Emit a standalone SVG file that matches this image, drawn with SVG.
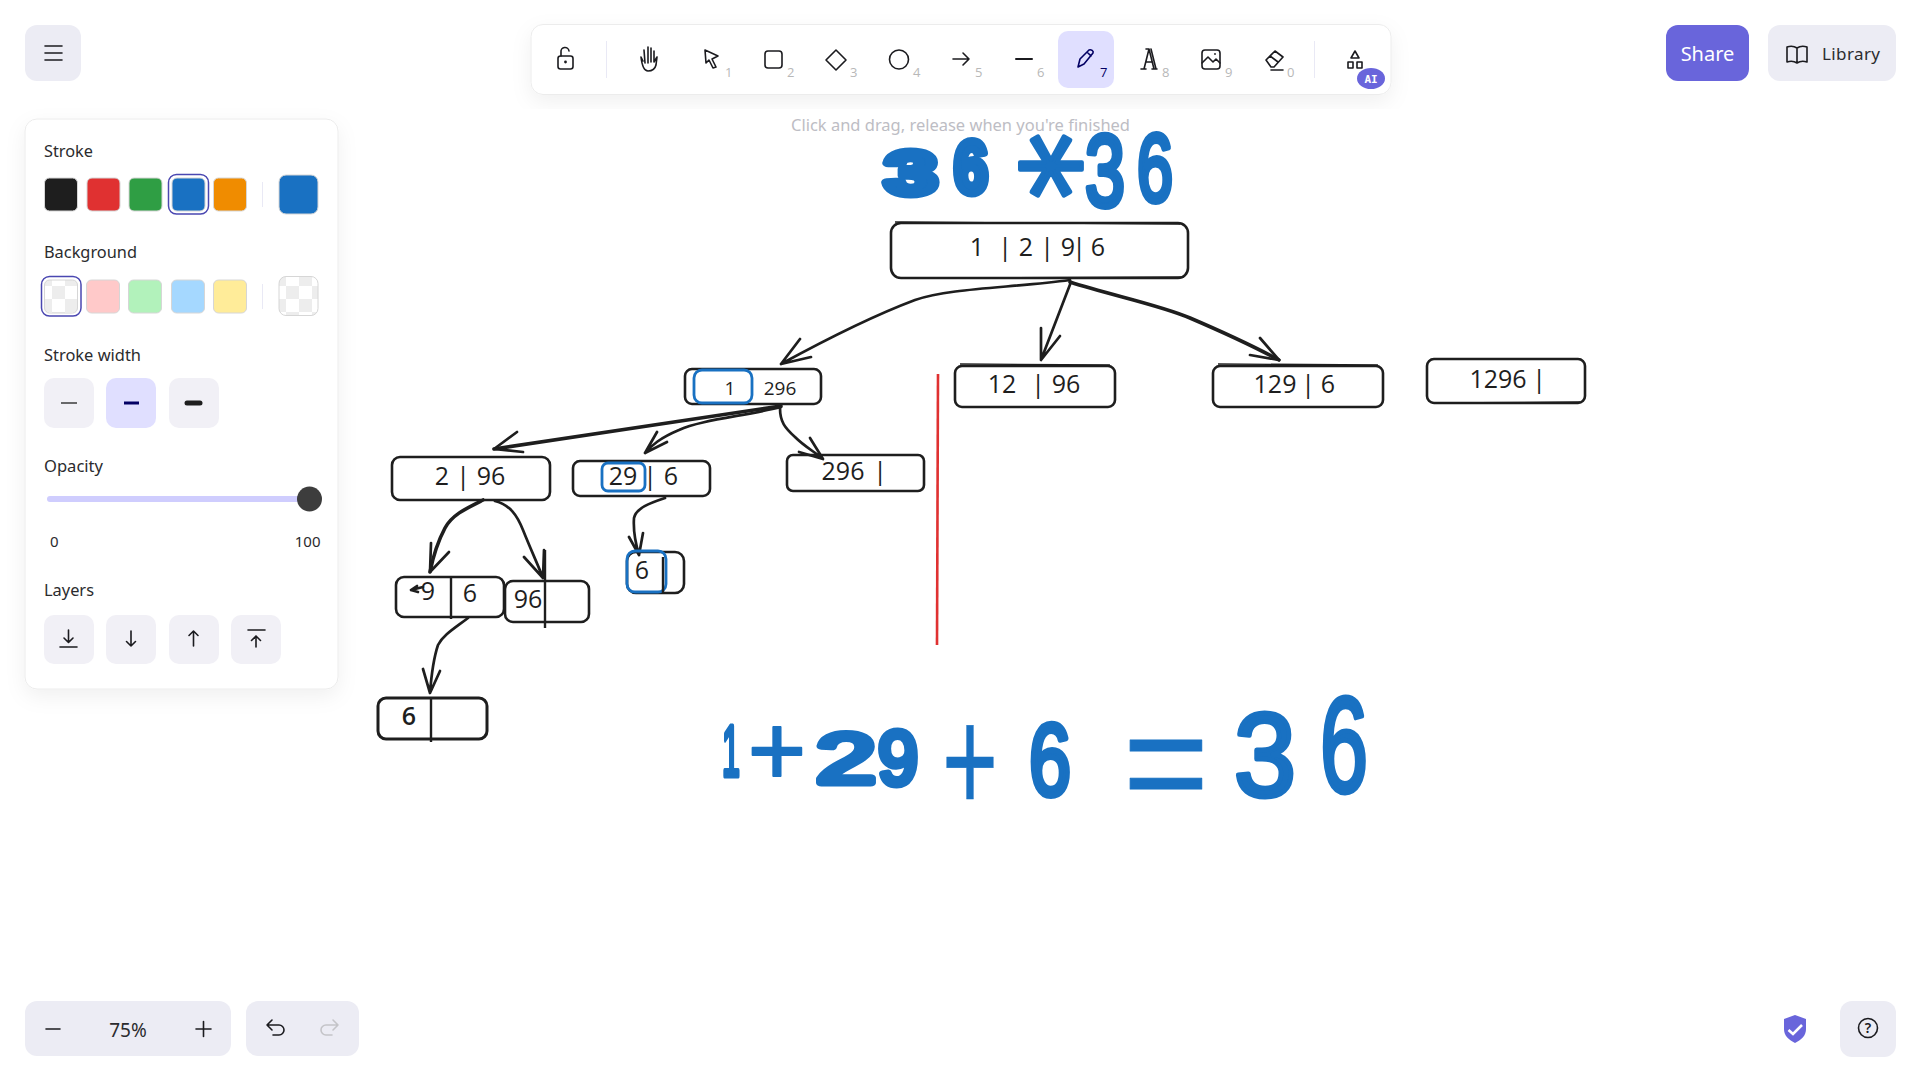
<svg xmlns="http://www.w3.org/2000/svg" width="1919" height="1077" viewBox="0 0 1919 1077">
<defs>
<filter id="sh" x="-15%" y="-15%" width="130%" height="135%"><feDropShadow dx="0" dy="7" stdDeviation="10" flood-color="#000" flood-opacity="0.06"/></filter>
<pattern id="chk" width="26" height="26" patternUnits="userSpaceOnUse"><rect width="13" height="13" fill="#ededed"/><rect x="13" y="13" width="13" height="13" fill="#ededed"/><rect x="13" width="13" height="13" fill="#fff"/><rect y="13" width="13" height="13" fill="#fff"/></pattern>
</defs>
<style>
text{font-family:"Noto Sans","Open Sans",sans-serif}
.ui{font-size:16px;fill:#2b2b2e}
.num{font-size:13px;fill:#b8b8b8;font-family:"Open Sans",sans-serif}
.btn{fill:#ececf4}
.sb{fill:#f1f0f6}
.ic{fill:none;stroke:#1b1b1f;stroke-width:1.6;stroke-linecap:round;stroke-linejoin:round}
.sw{stroke:#d6d6d6;stroke-width:1}
.ring{fill:none;stroke:#4a47b1;stroke-width:1.5}
.bx{fill:none;stroke:#1e1e1e;stroke-width:2.6}
.bx2{fill:none;stroke:#1e1e1e;stroke-width:1.4}
.bl{fill:none;stroke:#1971c2;stroke-width:2.8}
.dv{stroke:#1e1e1e;stroke-width:2.4;fill:none}
.lb{font-family:"Open Sans",sans-serif;font-size:25px;fill:#1e1e1e;text-anchor:middle}
.ln{fill:none;stroke:#1e1e1e;stroke-width:2.7;stroke-linecap:round;stroke-linejoin:round}
.th{stroke-width:3.6}
.pen{font-family:"Liberation Sans",sans-serif;fill:#1971c2;stroke:#1971c2;stroke-width:5;stroke-linejoin:round;stroke-linecap:round;text-anchor:middle}
</style>
<rect width="1919" height="1077" fill="#fff"/>

<g id="canvas-title">
<text class="pen" x="911" y="194" font-size="62" textLength="52" lengthAdjust="spacingAndGlyphs" style="stroke-width:8;font-weight:700">3</text>
<text class="pen" x="971" y="193" font-size="74" textLength="34" lengthAdjust="spacingAndGlyphs" style="stroke-width:8;font-weight:700">6</text>
<text class="pen" x="1050" y="166" font-size="135" transform="rotate(90 1050 166) translate(0 69)" style="font-family:'DejaVu Sans',sans-serif;stroke-width:4">*</text>
<text class="pen" x="1105" y="206" font-size="102" textLength="40" lengthAdjust="spacingAndGlyphs" style="stroke-width:6">3</text>
<text class="pen" x="1155" y="201" font-size="96" textLength="36" lengthAdjust="spacingAndGlyphs" style="stroke-width:6">6</text>
</g>

<g id="connectors">
<path class="ln" d="M1070 280C1010 288 950 288 915 300C875 315 825 340 781 364M800 339L781 364L811 357"/>
<path class="ln" d="M1071 282L1041 360M1041 328L1041 360L1060 336"/>
<path class="ln th" d="M1070 282C1110 295 1160 305 1190 318C1225 333 1255 347 1279 360"/>
<path class="ln" d="M1260 338L1279 360L1250 355"/>
<path class="ln th" d="M781 406L494 449"/>
<path class="ln" d="M517 432L494 449L523 452"/>
<path class="ln" d="M781 407C745 416 700 420 679 430C660 438 652 445 645 453M657 432L645 453L667 442"/>
<path class="ln" d="M780 408C780 422 785 428 795 437C805 447 815 452 823 459M810 438L823 459L799 452"/>
<path class="ln th" d="M483 500C465 509 452 515 445 528C437 543 433 557 430 572"/>
<path class="ln" d="M431 543L430 572L449 552"/>
<path class="ln" d="M495 501C510 505 517 515 523 530C531 550 538 565 543 578M524 557L543 578L544 550"/>
<path class="ln" d="M468 618C455 628 443 635 438 645C433 660 431 680 430 693M423 669L430 693L440 671"/>
<path class="ln" d="M665 498C650 503 636 508 634 518C633 532 636 545 639 555M629 537L639 555L643 533"/>
</g>

<g id="node-root">
<rect class="bx" x="891" y="223" width="297" height="55" rx="10"/><path class="bx2" d="M895 222L1180 224M898 278L1184 277"/>
<text class="lb"><tspan x="977" y="256">1</tspan><tspan x="1005" y="256">|</tspan><tspan x="1026" y="256">2</tspan><tspan x="1047" y="256">|</tspan><tspan x="1068" y="256">9</tspan><tspan x="1079" y="256">|</tspan><tspan x="1098" y="256">6</tspan></text>
</g>
<g id="node-1-296">
<rect class="bx" x="685" y="369" width="136" height="35" rx="7"/>
<rect class="bl" x="694" y="370" width="58" height="33" rx="8"/>
<text class="lb" style="font-size:19px"><tspan x="730" y="395">1</tspan><tspan x="780" y="395">296</tspan></text>
</g>
<g id="node-12-96">
<rect class="bx" x="955" y="366" width="160" height="41" rx="7"/><path class="bx2" d="M960 364L1110 365"/>
<text class="lb"><tspan x="1002" y="393">12</tspan><tspan x="1038" y="393">|</tspan><tspan x="1066" y="393">96</tspan></text>
</g>
<g id="node-129-6">
<rect class="bx" x="1213" y="366" width="170" height="41" rx="7"/><path class="bx2" d="M1218 364L1378 365"/>
<text class="lb"><tspan x="1275" y="393">129</tspan><tspan x="1308" y="393">|</tspan><tspan x="1328" y="393">6</tspan></text>
</g>
<g id="node-1296">
<rect class="bx" x="1427" y="359" width="158" height="44" rx="7"/><path class="bx2" d="M1432 403L1580 402"/>
<text class="lb"><tspan x="1498" y="388">1296</tspan><tspan x="1539" y="388">|</tspan></text>
</g>
<g id="node-2-96">
<rect class="bx" x="392" y="457" width="158" height="43" rx="8"/>
<text class="lb"><tspan x="442" y="485">2</tspan><tspan x="463" y="485">|</tspan><tspan x="491" y="485">96</tspan></text>
</g>
<g id="node-29-6">
<rect class="bx" x="573" y="461" width="137" height="35" rx="7"/>
<rect class="bl" x="602" y="463" width="43" height="28" rx="6"/>
<text class="lb"><tspan x="623" y="485">29</tspan><tspan x="650" y="485">|</tspan><tspan x="671" y="485">6</tspan></text>
</g>
<g id="node-296">
<rect class="bx" x="787" y="455" width="137" height="36" rx="6"/>
<text class="lb"><tspan x="843" y="480">296</tspan><tspan x="880" y="480">|</tspan></text>
</g>
<g id="node-9-6">
<rect class="bx" x="396" y="577" width="108" height="40" rx="8"/>
<path class="dv" d="M451 576V619"/>
<path class="ln" d="M411 590L423 587M417 586L411 590L418 592"/>
<text class="lb"><tspan x="428" y="600">9</tspan><tspan x="470" y="602">6</tspan></text>
</g>
<g id="node-96">
<rect class="bx" x="505" y="581" width="84" height="41" rx="8"/>
<path class="dv" d="M545 550V628"/>
<text class="lb"><tspan x="528" y="608">96</tspan></text>
</g>
<g id="node-6-right">
<rect class="bx" x="627" y="552" width="57" height="41" rx="9"/>
<rect class="bl" x="627" y="551" width="39" height="41" rx="8"/>
<path class="dv" d="M663 557V594"/>
<text class="lb"><tspan x="642" y="579">6</tspan></text>
</g>
<g id="node-6-left">
<rect class="bx" x="378" y="698" width="109" height="41" rx="8" style="stroke-width:3"/>
<path class="dv" d="M431 697V742"/>
<text class="lb" style="font-weight:600"><tspan x="409" y="725">6</tspan></text>
</g>
<path id="divider" d="M938 374L937 645" fill="none" stroke="#e03131" stroke-width="2.6"/>

<g id="canvas-sum">
<text class="pen" x="731" y="776" font-size="72" textLength="18" lengthAdjust="spacingAndGlyphs">1</text>
<text class="pen" x="777" y="785" font-size="100" style="stroke-width:2">+</text>
<text class="pen" x="846" y="783" font-size="70" textLength="60" lengthAdjust="spacingAndGlyphs" style="stroke-width:7">2</text>
<text class="pen" x="898" y="784" font-size="76" textLength="40" lengthAdjust="spacingAndGlyphs" style="stroke-width:7">9</text>
<text class="pen" x="970" y="812" font-size="150" textLength="56" lengthAdjust="spacingAndGlyphs" style="stroke-width:0.5">+</text>
<text class="pen" x="1050" y="795" font-size="102" textLength="42" lengthAdjust="spacingAndGlyphs" style="stroke-width:6">6</text>
<text class="pen" x="1166" y="814" font-size="150" textLength="86" lengthAdjust="spacingAndGlyphs" style="stroke-width:1">=</text>
<text class="pen" x="1265" y="796" font-size="118" textLength="62" lengthAdjust="spacingAndGlyphs">3</text>
<text class="pen" x="1344" y="792" font-size="136" textLength="48" lengthAdjust="spacingAndGlyphs">6</text>
</g>

<g id="menu-button"><rect class="btn" x="25" y="25" width="56" height="56" rx="12"/><path class="ic" d="M45 46H62M45 53H62M45 60H62"/></g>

<g id="properties-panel">
<rect x="25" y="119" width="313" height="570" rx="12" fill="#fff" stroke="#ececec" filter="url(#sh)"/>
<text class="ui" x="44" y="157" textLength="49" lengthAdjust="spacingAndGlyphs">Stroke</text>
<rect class="sw" x="44.500" y="178" width="33" height="33" rx="5" fill="#1e1e1e"/>
<rect class="sw" x="87" y="178" width="33" height="33" rx="5" fill="#e03131"/>
<rect class="sw" x="129" y="178" width="33" height="33" rx="5" fill="#2f9e44"/>
<rect class="sw" x="172" y="178" width="33" height="33" rx="5" fill="#1971c2"/>
<rect class="ring" x="168.500" y="174.500" width="40" height="39.500" rx="8"/>
<rect class="sw" x="213.500" y="178" width="33" height="33" rx="5" fill="#f08c00"/>
<path d="M262.500 182V207" stroke="#e9e9f5"/>
<rect class="sw" x="279" y="175" width="39" height="39" rx="7" fill="#1971c2"/>
<text class="ui" x="44" y="258" textLength="93" lengthAdjust="spacingAndGlyphs">Background</text>
<rect class="sw" x="44.500" y="280" width="33" height="33" rx="5" fill="url(#chk)"/>
<rect class="ring" x="41.500" y="276.500" width="39.500" height="39.500" rx="8"/>
<rect class="sw" x="86.500" y="280" width="33" height="33" rx="5" fill="#ffc9c9"/>
<rect class="sw" x="128.500" y="280" width="33" height="33" rx="5" fill="#b2f2bb"/>
<rect class="sw" x="171.500" y="280" width="33" height="33" rx="5" fill="#a5d8ff"/>
<rect class="sw" x="213.500" y="280" width="33" height="33" rx="5" fill="#ffec99"/>
<path d="M262.500 284V309" stroke="#e9e9f5"/>
<rect class="sw" x="279" y="276.500" width="39" height="39" rx="7" fill="url(#chk)"/>
<text class="ui" x="44" y="361" textLength="97" lengthAdjust="spacingAndGlyphs">Stroke width</text>
<rect class="sb" x="44" y="378" width="50" height="50" rx="10"/>
<rect x="106" y="378" width="50" height="50" rx="10" fill="#e0dfff"/>
<rect class="sb" x="169" y="378" width="50" height="50" rx="10"/>
<path d="M61 403H77" stroke="#1e1e1e" stroke-width="1.300"/>
<path d="M124 403H139" stroke="#030064" stroke-width="3"/>
<path d="M187 403H200" stroke="#1e1e1e" stroke-width="5" stroke-linecap="round"/>
<text class="ui" x="44" y="472" textLength="59" lengthAdjust="spacingAndGlyphs">Opacity</text>
<rect x="47" y="496" width="262" height="6" rx="3" fill="#cfcdfe"/>
<circle cx="309.500" cy="499" r="12.500" fill="#3d3d3d"/>
<text class="ui" x="50" y="547" style="font-size:15px">0</text>
<text class="ui" x="320.500" y="547" text-anchor="end" style="font-size:15px">100</text>
<text class="ui" x="44" y="596" textLength="50" lengthAdjust="spacingAndGlyphs">Layers</text>
<rect class="sb" x="44" y="615" width="50" height="49" rx="10"/>
<rect class="sb" x="106" y="615" width="50" height="49" rx="10"/>
<rect class="sb" x="169" y="615" width="50" height="49" rx="10"/>
<rect class="sb" x="231" y="615" width="50" height="49" rx="10"/>
<path class="ic" d="M60 647H77M68.500 630V642M64 638L68.500 642.500L73 638"/>
<path class="ic" d="M131 631V646M126.500 641.500L131 646L135.500 641.500"/>
<path class="ic" d="M193.500 646V631M189 635.500L193.500 631L198 635.500"/>
<path class="ic" d="M248 630H265M256 647V636M251.500 640.500L256 636L260.500 640.500"/>
</g>

<g id="toolbar">
<rect x="531" y="24.500" width="860" height="70" rx="12" fill="#fff" stroke="#ececec" filter="url(#sh)"/>
<path d="M606.500 41V78M1314.500 41V78" stroke="#e9e9f5"/>
<rect x="1058" y="31" width="56" height="57" rx="10" fill="#e0dfff"/>
<g id="tool-lock"><rect class="ic" x="558" y="56" width="15" height="13" rx="2.500"/><path class="ic" d="M561 56V52A4 4 0 0 1 569 51"/><circle cx="565.500" cy="62" r="1.400" fill="#1b1b1f"/></g>
<g id="tool-hand"><path class="ic" d="M643 61L641 57M645 63L644 50M648 63V47M651 62V48M654 62V51M654 62L657 57L656 65C655 69 652 71 648 71C644 71 642 66 641 57"/></g>
<g id="tool-select"><path class="ic" d="M705 50L718 56L712 59L716 67L713 68L709 60L706 63Z"/></g>
<g id="tool-rect"><rect class="ic" x="765" y="51" width="17" height="17" rx="3"/></g>
<g id="tool-diamond"><path class="ic" d="M836 50L846 60L836 70L826 60Z"/></g>
<g id="tool-circle"><circle class="ic" cx="899" cy="59.500" r="9.500"/></g>
<g id="tool-arrow"><path class="ic" d="M953 59H969M963 53L969 59L963 65"/></g>
<g id="tool-line"><path class="ic" d="M1016 59H1032" style="stroke-width:2"/></g>
<g id="tool-pen"><path class="ic" d="M1078 67L1080 59L1089 50C1091 49 1094 51 1093 53L1084 64L1078 67M1087 52L1091 56" style="stroke:#030064"/></g>
<g id="tool-text"><path class="ic" d="M1141 69H1146M1152 69H1157M1144 69L1149 49L1154 69M1146 62H1152M1149 49H1146M1151 49L1156 69"/></g>
<g id="tool-image"><rect class="ic" x="1202" y="50" width="18" height="19" rx="3"/><path class="ic" d="M1202 63L1208 57L1213 62L1216 59L1220 63"/><circle cx="1215" cy="54" r="0.900" fill="#1b1b1f"/></g>
<g id="tool-eraser"><path class="ic" d="M1266 60L1275 51L1283 57L1274 67H1271ZM1270 56L1278 62M1271 70H1283"/></g>
<g id="tool-shapes"><path class="ic" d="M1355 51L1359 58H1351ZM1348 62H1353V68H1348ZM1357 62H1362V68H1357Z"/></g>
<text class="num" x="725" y="77">1</text><text class="num" x="787" y="77">2</text><text class="num" x="850" y="77">3</text><text class="num" x="913" y="77">4</text><text class="num" x="975" y="77">5</text><text class="num" x="1037" y="77">6</text><text class="num" x="1100" y="77" style="fill:#030064">7</text><text class="num" x="1162" y="77">8</text><text class="num" x="1225" y="77">9</text><text class="num" x="1287" y="77">0</text>
<ellipse cx="1371" cy="78.500" rx="14" ry="10.500" fill="#6965db"/>
<text x="1371" y="82.500" text-anchor="middle" style="font-family:'DejaVu Sans Mono',monospace;font-size:11px;font-weight:700;fill:#fff">AI</text>
</g>
<text id="hint" x="791" y="131" textLength="339" lengthAdjust="spacingAndGlyphs" style="font-size:17px;fill:#bdbdc4">Click and drag, release when you're finished</text>

<g id="share"><rect x="1666" y="25" width="83" height="56" rx="12" fill="#6965db"/><text x="1707.500" y="61" text-anchor="middle" style="font-size:20px;fill:#fff">Share</text></g>
<g id="library"><rect class="btn" x="1768" y="25" width="128" height="56" rx="12"/><path class="ic" d="M1797 48C1794 46 1790 46 1787 47V62C1790 61 1794 61 1797 63C1800 61 1804 61 1807 62V47C1804 46 1800 46 1797 48ZM1797 48V63"/><text x="1822" y="60" textLength="58" lengthAdjust="spacing" style="font-size:17px;fill:#2b2b2e">Library</text></g>

<g id="zoom-controls"><rect class="btn" x="25" y="1001" width="206" height="55" rx="12"/><path class="ic" d="M46 1029H60M196 1029H211M203.500 1021.500V1036.500"/><text x="128" y="1037" text-anchor="middle" style="font-size:19px;fill:#2b2b2e">75%</text></g>
<g id="undo-redo"><rect class="btn" x="246" y="1001" width="113" height="55" rx="12"/><path class="ic" d="M272 1020L267 1025L272 1030M267 1025H279A5 5 0 0 1 279 1035H273"/><path class="ic" style="stroke:#c4c4c8" d="M333 1020L338 1025L333 1030M338 1025H326A5 5 0 0 0 326 1035H332"/></g>
<g id="shield"><path d="M1795 1015L1806 1019V1029C1806 1036 1801 1040 1795 1043C1789 1040 1784 1036 1784 1029V1019Z" fill="#6965db"/><path d="M1788.500 1030L1793 1034L1802 1025" fill="none" stroke="#fff" stroke-width="2.600"/></g>
<g id="help"><rect class="btn" x="1840" y="1001" width="56" height="56" rx="12"/><circle class="ic" cx="1868" cy="1028" r="9.500"/><text x="1868" y="1033" text-anchor="middle" style="font-size:14px;fill:#1b1b1f;font-weight:600">?</text></g>
</svg>
